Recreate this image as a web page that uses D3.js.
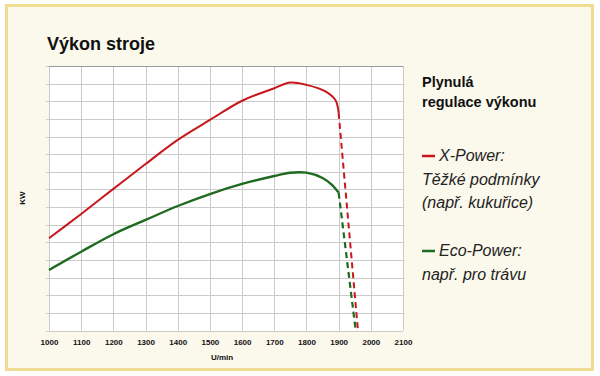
<!DOCTYPE html>
<html>
<head>
    <meta charset="utf-8">
    <style>
        body { margin: 0; background: #fff; }
        svg { display: block; font-family: "Liberation Sans", Arial, sans-serif; }
    </style>
</head>
<body>
    <svg width="600" height="376"></svg>

<script src="https://d3js.org/d3.v7.min.js"></script>
<script>
    // values (y in grid units, 15 rows, no labels)
    let xTicks = [1000, 1100, 1200, 1300, 1400, 1500, 1600, 1700, 1800, 1900, 2000, 2100]

    let xPowerRpm = [1000, 1100, 1200, 1300, 1400, 1500, 1600, 1700, 1750, 1800, 1860, 1890, 1900]
    let xPowerKw = [5.23, 6.61, 8.03, 9.44, 10.81, 11.94, 13.03, 13.74, 14.06, 13.93, 13.55, 13.07, 12.34]
    let xPowerDropRpm = [1900, 1960]
    let xPowerDropKw = [12.34, 0]

    let ecoRpm = [1000, 1100, 1200, 1300, 1400, 1500, 1600, 1700, 1750, 1800, 1850, 1880, 1900]
    let ecoKw = [3.43, 4.47, 5.46, 6.27, 7.06, 7.74, 8.31, 8.76, 8.95, 8.95, 8.65, 8.25, 7.82]
    let ecoDropRpm = [1900, 1953]
    let ecoDropKw = [7.82, 0]

    let legendTitle = ["Plynulá", "regulace výkonu"]
    let legendRed = ["X-Power:", "Těžké podmínky", "(např. kukuřice)"]
    let legendGreen = ["Eco-Power:", "např. pro trávu"]

    let red = "#c8171c"
    let green = "#1e6a1f"

    let svg = d3.select("svg")

    // frame
    svg.append("rect")
        .attr("x", 6.5).attr("y", 5.5)
        .attr("width", 586).attr("height", 364)
        .style("fill", "#fbf8ec")
        .style("stroke", "#f0dc93")
        .style("stroke-width", 3)

    svg.append("text")
        .attr("x", 47).attr("y", 50)
        .style("font-size", "18px")
        .style("font-weight", "bold")
        .style("fill", "#111")
        .text("Výkon stroje")

    let x = d3.scaleLinear().domain([1000, 2100]).range([49, 403])
    let y = d3.scaleLinear().domain([0, 15]).range([330.5, 66])

    svg.append("rect")
        .attr("x", x(1000)).attr("y", y(15))
        .attr("width", x(2100) - x(1000)).attr("height", y(0) - y(15))
        .style("fill", "#fff")

    // grid
    svg.append("g")
        .selectAll("line")
        .data(xTicks)
        .join("line")
        .attr("x1", d => Math.round(x(d)) + 0.5).attr("x2", d => Math.round(x(d)) + 0.5)
        .attr("y1", y(15)).attr("y2", y(0))
        .style("stroke", "#cbcbcb")

    svg.append("g")
        .selectAll("line")
        .data(d3.range(0, 16))
        .join("line")
        .attr("x1", x(1000) - 3).attr("x2", x(2100))
        .attr("y1", d => Math.round(y(d)) + 0.5).attr("y2", d => Math.round(y(d)) + 0.5)
        .style("stroke", "#cbcbcb")

    svg.append("line")
        .attr("x1", x(1000)).attr("x2", x(2100))
        .attr("y1", Math.round(y(15)) + 0.5).attr("y2", Math.round(y(15)) + 0.5)
        .style("stroke", "#9a9a9a")

    // x axis labels
    let xAxis = d3.axisBottom(x).tickValues(xTicks).tickSize(0).tickPadding(9).tickFormat(d3.format("d"))
    let gx = svg.append("g")
        .attr("transform", "translate(0," + y(0) + ")")
        .call(xAxis)
    gx.select(".domain").remove()
    gx.selectAll("text")
        .style("font-family", "'Liberation Sans', Arial, sans-serif")
        .style("font-size", "8px")
        .style("font-weight", "bold")
        .style("fill", "#111")

    svg.append("text")
        .attr("x", 222).attr("y", 360)
        .attr("text-anchor", "middle")
        .style("font-size", "8px")
        .style("font-weight", "bold")
        .style("fill", "#111")
        .text("U/min")

    svg.append("text")
        .attr("transform", "translate(25,198) rotate(-90)")
        .attr("text-anchor", "middle")
        .style("font-size", "8px")
        .style("font-weight", "bold")
        .style("fill", "#111")
        .text("KW")

    // curves
    let line = d3.line()
        .x(d => x(d[0]))
        .y(d => y(d[1]))
        .curve(d3.curveCatmullRom.alpha(0.5))

    function drawLine(rpm, kw, color, width, dash) {
        svg.append("path")
            .attr("d", line(d3.zip(rpm, kw)))
            .style("fill", "none")
            .style("stroke", color)
            .style("stroke-width", width)
            .style("stroke-dasharray", dash)
    }

    drawLine(ecoDropRpm, ecoDropKw, green, 2.2, "6,4")
    drawLine(xPowerDropRpm, xPowerDropKw, red, 2, "6,4")
    drawLine(ecoRpm, ecoKw, green, 2.4, null)
    drawLine(xPowerRpm, xPowerKw, red, 2, null)

    // legend
    svg.append("g")
        .selectAll("text")
        .data(legendTitle)
        .join("text")
        .attr("x", 422).attr("y", (d, i) => 87 + i * 20)
        .style("font-size", "14.5px")
        .style("font-weight", "bold")
        .style("fill", "#111")
        .text(d => d)

    function legendBlock(lines, color, top) {
        svg.append("line")
            .attr("x1", 422).attr("x2", 435)
            .attr("y1", top - 5).attr("y2", top - 5)
            .style("stroke", color)
            .style("stroke-width", 2.5)
        svg.append("g")
            .selectAll("text")
            .data(lines)
            .join("text")
            .attr("x", (d, i) => i == 0 ? 439 : 422)
            .attr("y", (d, i) => top + i * 23.7)
            .style("font-size", "16px")
            .style("font-style", "italic")
            .style("fill", "#222")
            .text(d => d)
    }

    legendBlock(legendRed, red, 161)
    legendBlock(legendGreen, green, 256)
</script>
</body>
</html>
